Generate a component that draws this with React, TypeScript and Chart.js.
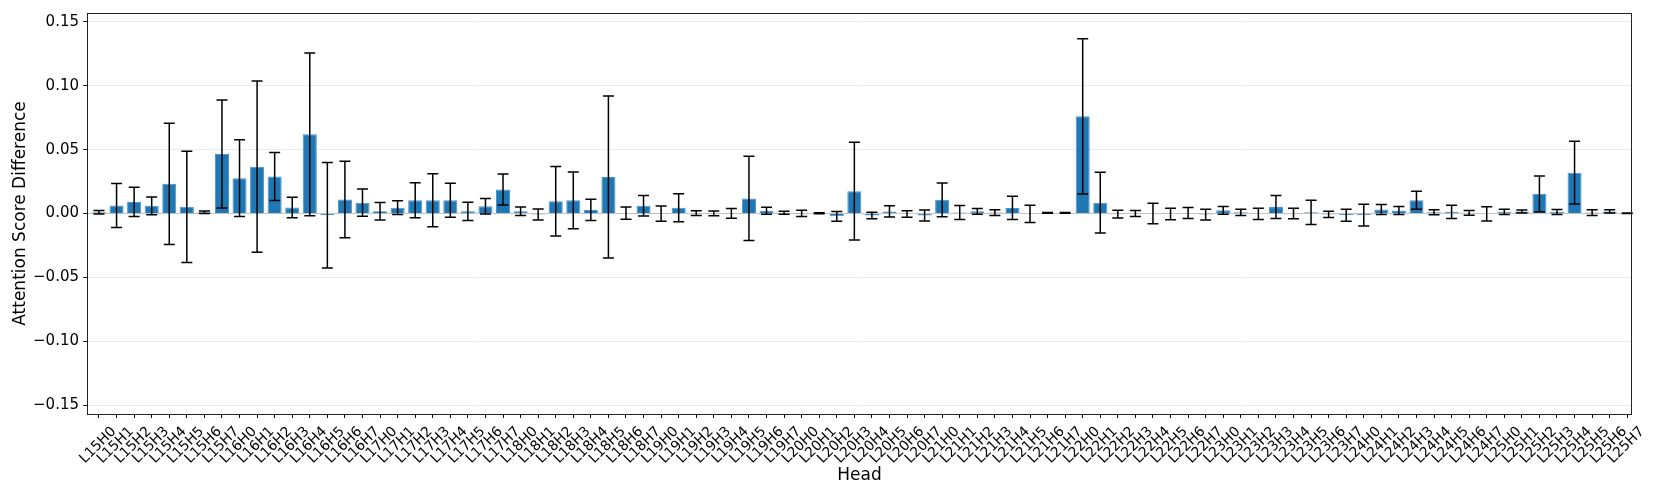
import React, { useEffect, useRef } from "react";
import { Chart, registerables } from "chart.js";

Chart.register(...registerables);

const HEADS: string[] = [
  "L15H0", "L15H1", "L15H2", "L15H3", "L15H4", "L15H5", "L15H6", "L15H7",
  "L16H0", "L16H1", "L16H2", "L16H3", "L16H4", "L16H5", "L16H6", "L16H7",
  "L17H0", "L17H1", "L17H2", "L17H3", "L17H4", "L17H5", "L17H6", "L17H7",
  "L18H0", "L18H1", "L18H2", "L18H3", "L18H4", "L18H5", "L18H6", "L18H7",
  "L19H0", "L19H1", "L19H2", "L19H3", "L19H4", "L19H5", "L19H6", "L19H7",
  "L20H0", "L20H1", "L20H2", "L20H3", "L20H4", "L20H5", "L20H6", "L20H7",
  "L21H0", "L21H1", "L21H2", "L21H3", "L21H4", "L21H5", "L21H6", "L21H7",
  "L22H0", "L22H1", "L22H2", "L22H3", "L22H4", "L22H5", "L22H6", "L22H7",
  "L23H0", "L23H1", "L23H2", "L23H3", "L23H4", "L23H5", "L23H6", "L23H7",
  "L24H0", "L24H1", "L24H2", "L24H3", "L24H4", "L24H5", "L24H6", "L24H7",
  "L25H0", "L25H1", "L25H2", "L25H3", "L25H4", "L25H5", "L25H6", "L25H7",
];

// mean attention score difference per head
const MEANS: number[] = [
  0.0010, 0.0062, 0.0091, 0.0060, 0.0232, 0.0052, 0.0010, 0.0466,
  0.0277, 0.0367, 0.0290, 0.0047, 0.0620, -0.0014, 0.0110, 0.0085,
  0.0018, 0.0046, 0.0104, 0.0104, 0.0104, 0.0017, 0.0057, 0.0188,
  0.0017, -0.0008, 0.0096, 0.0103, 0.0028, 0.0286, 0.0002, 0.0061,
  -0.0001, 0.0045, 0.0003, 0.0001, 0.0001, 0.0118, 0.0022, 0.0006,
  0.0001, 0.0002, -0.0022, 0.0175, -0.0016, 0.0016, -0.0004, -0.0016,
  0.0107, 0.0008, 0.0017, 0.0007, 0.0044, -0.0003, 0.0004, 0.0004,
  0.0761, 0.0085, -0.0005, 0.0000, 0.0000, -0.0004, 0.0004, -0.0008,
  0.0025, 0.0009, -0.0003, 0.0050, 0.0000, 0.0009, -0.0007, -0.0013,
  -0.0012, 0.0032, 0.0023, 0.0104, 0.0010, 0.0013, 0.0005, -0.0003,
  0.0013, 0.0015, 0.0154, 0.0012, 0.0320, 0.0007, 0.0016, 0.0002,
];

// half-length of each error bar
const ERRORS: number[] = [
  0.0013, 0.0172, 0.0115, 0.0069, 0.0475, 0.0435, 0.0010, 0.0423,
  0.0300, 0.0670, 0.0188, 0.0080, 0.0637, 0.0413, 0.0300, 0.0107,
  0.0069, 0.0054, 0.0137, 0.0208, 0.0133, 0.0072, 0.0060, 0.0121,
  0.0033, 0.0043, 0.0272, 0.0222, 0.0083, 0.0634, 0.0048, 0.0080,
  0.0059, 0.0110, 0.0018, 0.0018, 0.0038, 0.0330, 0.0027, 0.0012,
  0.0025, 0.0003, 0.0038, 0.0383, 0.0025, 0.0044, 0.0025, 0.0043,
  0.0132, 0.0055, 0.0022, 0.0022, 0.0091, 0.0068, 0.0003, 0.0003,
  0.0608, 0.0238, 0.0030, 0.0023, 0.0080, 0.0045, 0.0043, 0.0042,
  0.0030, 0.0025, 0.0044, 0.0090, 0.0042, 0.0095, 0.0025, 0.0047,
  0.0085, 0.0039, 0.0031, 0.0070, 0.0020, 0.0052, 0.0018, 0.0055,
  0.0021, 0.0012, 0.0140, 0.0020, 0.0245, 0.0022, 0.0013, 0.0002,
];

const Y_TICKS: number[] = [-0.15, -0.1, -0.05, 0, 0.05, 0.1, 0.15];
const Y_MIN = -0.157;
const Y_MAX = 0.157;
const X_MIN = -0.683;
const X_MAX = 87.27;

const FONT = "'DejaVu Sans', sans-serif";

const errorBarPlugin = {
  id: "errorBars",
  afterDatasetsDraw(chart: any) {
    const meta = chart.getDatasetMeta(0);
    const yScale = chart.scales.y;
    const ctx = chart.ctx;
    ctx.save();
    ctx.strokeStyle = "#000000";
    ctx.lineWidth = 1.5;
    const cap = 5.5;
    meta.data.forEach((el: any, i: number) => {
      const m = MEANS[i];
      const e = ERRORS[i];
      const yt = yScale.getPixelForValue(m + e);
      const yb = yScale.getPixelForValue(m - e);
      const x = el.x;
      ctx.beginPath();
      ctx.moveTo(x, yt);
      ctx.lineTo(x, yb);
      ctx.moveTo(x - cap, yt);
      ctx.lineTo(x + cap, yt);
      ctx.moveTo(x - cap, yb);
      ctx.lineTo(x + cap, yb);
      ctx.stroke();
    });
    ctx.restore();
  },
};

const framePlugin = {
  id: "frame",
  afterDraw(chart: any) {
    const { ctx, chartArea } = chart;
    ctx.save();
    ctx.strokeStyle = "#222222";
    ctx.lineWidth = 1;
    const l = Math.round(chartArea.left) + 0.5;
    const t = Math.round(chartArea.top) + 0.5;
    const r = Math.round(chartArea.right) - 0.5;
    const b = Math.round(chartArea.bottom) + 0.5;
    ctx.strokeRect(l, t, r - l, b - t);
    ctx.restore();
  },
};

export default function App() {
  const canvasRef = useRef<HTMLCanvasElement | null>(null);

  useEffect(() => {
    document.body.style.margin = "0";
    const canvas = canvasRef.current;
    if (!canvas) return;
    const chart = new Chart(canvas, {
      type: "bar",
      data: {
        labels: HEADS,
        datasets: [
          {
            label: "Attention Score Difference",
            data: MEANS.map((v, i) => ({ x: i, y: v })),
            backgroundColor: "#1f77b4",
            borderColor: "#4d93c9",
            borderWidth: 1,
            barPercentage: 0.8,
            categoryPercentage: 1.0,
          },
        ],
      },
      options: {
        responsive: false,
        animation: false,
        devicePixelRatio: 1,
        layout: { padding: { left: 0, right: 29, top: 12, bottom: 0 } },
        plugins: {
          legend: { display: false },
          tooltip: { enabled: false },
          title: { display: false },
        },
        scales: {
          x: {
            type: "linear",
            min: X_MIN,
            max: X_MAX,
            offset: false,
            afterBuildTicks: (scale: any) => {
              scale.ticks = HEADS.map((_, i) => ({ value: i }));
            },
            afterFit: (scale: any) => {
              scale.height = 84;
            },
            grid: {
              drawOnChartArea: false,
              drawTicks: true,
              tickLength: 4,
              tickColor: "#000000",
              tickWidth: 1,
              offset: false,
            },
            border: { display: false },
            ticks: {
              autoSkip: false,
              minRotation: 45,
              maxRotation: 45,
              labelOffset: 15,
              padding: 5.5,
              color: "#000000",
              font: { family: FONT, size: 14 },
              callback: (v: any) => HEADS[Math.round(Number(v))] ?? "",
            },
            title: {
              display: true,
              text: "Head",
              color: "#000000",
              font: { family: FONT, size: 17 },
              padding: { top: 0, bottom: 12 },
            },
          },
          y: {
            min: Y_MIN,
            max: Y_MAX,
            afterBuildTicks: (scale: any) => {
              scale.ticks = Y_TICKS.map((v) => ({ value: v }));
            },
            afterFit: (scale: any) => {
              scale.width = 87;
            },
            grid: {
              color: (ctx: any) =>
                ctx.tick && Math.abs(ctx.tick.value) < 1e-9 ? "#c4c4c4" : "#ebebeb",
              lineWidth: 1,
              drawTicks: true,
              tickLength: 4,
              tickColor: "#000000",
              tickWidth: 1,
            },
            border: { display: false },
            ticks: {
              padding: 4,
              color: "#000000",
              font: { family: FONT, size: 15 },
              callback: (v: any) => {
                const n = Number(v);
                const s = (Math.abs(n) < 1e-9 ? 0 : n).toFixed(2);
                return s.replace("-", "\u2212");
              },
            },
            title: {
              display: true,
              text: "Attention Score Difference",
              color: "#000000",
              font: { family: FONT, size: 17 },
              padding: { top: 10, bottom: 0 },
            },
          },
        },
      } as any,
      plugins: [errorBarPlugin, framePlugin],
    });
    return () => chart.destroy();
  }, []);

  return (
    <div style={{ position: "absolute", left: 0, top: 0, width: 1661, height: 498, background: "#ffffff" }}>
      <canvas ref={canvasRef} width={1661} height={498} style={{ width: 1661, height: 498, display: "block" }} />
    </div>
  );
}
